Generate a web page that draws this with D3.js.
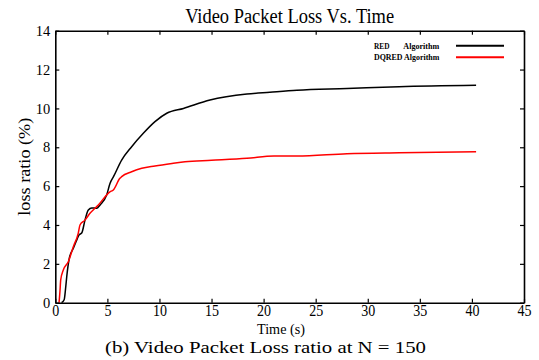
<!DOCTYPE html>
<html>
<head>
<meta charset="utf-8">
<script src="https://cdn.jsdelivr.net/npm/d3@7"></script>
<style>
  html, body { margin: 0; padding: 0; background: #fff; }
  svg { display: block; }
</style>
</head>
<body>
<svg id="chart" width="539" height="360"></svg>
<script>
// Video packet loss ratio (%) over time (s), N = 150
const redTime = [0.6, 0.85, 1.0, 1.1, 1.35, 1.73, 2.0, 2.27, 2.55, 2.85, 3.17, 3.5, 3.97, 4.3, 4.93, 5.25, 5.6, 6.37, 7.33, 8.45, 9.57, 10.7, 12.3, 14.85, 18.4, 20.6, 23.2, 28, 33, 40.4];
const redLoss = [0, 0.15, 0.8, 1.35, 2.3, 2.8, 3.15, 3.48, 3.6, 4.25, 4.77, 4.88, 4.86, 5.03, 5.54, 6.14, 6.5, 7.34, 8.03, 8.72, 9.32, 9.75, 10.0, 10.43, 10.74, 10.83, 10.93, 11.02, 11.12, 11.19];

const dqredTime = [0.36, 0.45, 0.52, 0.77, 1.25, 1.73, 2.2, 2.37, 2.85, 3.33, 4.13, 5.25, 5.57, 6.2, 6.37, 7.33, 8.3, 9.57, 11.2, 12.45, 15, 18.4, 21, 23.2, 28, 33, 40.4];
const dqredLoss = [0, 0.6, 1.17, 1.68, 2.11, 2.88, 3.57, 4.0, 4.25, 4.6, 5.03, 5.71, 5.8, 6.4, 6.49, 6.74, 6.92, 7.04, 7.17, 7.26, 7.33, 7.43, 7.55, 7.55, 7.67, 7.72, 7.77];

const seriesNames = ["RED", "DQRED"];
const seriesColors = ["#000000", "#ff0000"];

const xTicks = [0, 5, 10, 15, 20, 25, 30, 35, 40, 45];
const yTicks = [0, 2, 4, 6, 8, 10, 12, 14];

const titleText = "Video Packet Loss Vs. Time";
const xLabel = "Time (s)";
const yLabel = "loss ratio (%)";
const captionText = "(b) Video Packet Loss ratio at N = 150";

const serif = "'Liberation Serif', 'Times New Roman', Times, serif";

const svg = d3.select("#chart");
const plotLeft = 55.3, plotRight = 524, plotTop = 30.7, plotBottom = 302.7;

const x = d3.scaleLinear().domain([0, 45]).range([plotLeft, plotRight]);
const y = d3.scaleLinear().domain([0, 14]).range([plotBottom, plotTop]);

svg.append("rect").attr("width", 539).attr("height", 360).attr("fill", "#fff");

// series lines
const series = [
  { t: redTime, v: redLoss },
  { t: dqredTime, v: dqredLoss }
];
const line = d3.line().x(d => x(d[0])).y(d => y(d[1])).curve(d3.curveMonotoneX);
series.forEach((s, i) => {
  svg.append("path")
    .datum(s.t.map((t, k) => [t, s.v[k]]))
    .attr("fill", "none")
    .attr("stroke", seriesColors[i])
    .attr("stroke-width", 1.5)
    .attr("stroke-linejoin", "round")
    .attr("d", line);
});

// axes with inward ticks on all four sides
const bottomAxis = svg.append("g").attr("transform", `translate(0,${plotBottom})`)
  .call(d3.axisBottom(x).tickValues(xTicks).tickSizeInner(-4).tickSizeOuter(0).tickPadding(2));
bottomAxis.selectAll("text")
  .style("font-family", serif)
  .attr("font-size", 16.5)
  .attr("textLength", d => String(d).length * 7)
  .attr("lengthAdjust", "spacingAndGlyphs");

const leftAxis = svg.append("g").attr("transform", `translate(${plotLeft},0)`)
  .call(d3.axisLeft(y).tickValues(yTicks).tickSizeInner(-4).tickSizeOuter(0).tickPadding(5));
leftAxis.selectAll("text").style("font-family", serif).attr("font-size", 14.5);

svg.append("g").attr("transform", `translate(0,${plotTop})`)
  .call(d3.axisTop(x).tickValues(xTicks).tickSizeInner(-4).tickSizeOuter(0).tickFormat(""));
svg.append("g").attr("transform", `translate(${plotRight},0)`)
  .call(d3.axisRight(y).tickValues(yTicks).tickSizeInner(-4).tickSizeOuter(0).tickFormat(""));

svg.selectAll(".domain").attr("stroke", "#000").attr("stroke-width", 1.6);
svg.selectAll(".tick line").attr("stroke", "#000").attr("stroke-width", 1.2);

// title and labels
svg.append("text").attr("x", (plotLeft + plotRight) / 2).attr("y", 23.3)
  .style("font-family", serif)
  .attr("text-anchor", "middle").attr("font-size", 20.5)
  .attr("textLength", 209).attr("lengthAdjust", "spacingAndGlyphs")
  .text(titleText);

svg.append("text").attr("x", 281).attr("y", 334)
  .style("font-family", serif)
  .attr("text-anchor", "middle").attr("font-size", 15)
  .attr("textLength", 48).attr("lengthAdjust", "spacingAndGlyphs")
  .text(xLabel);

svg.append("text")
  .attr("transform", `translate(30,${(plotTop + plotBottom) / 2}) rotate(-90)`)
  .style("font-family", serif)
  .attr("text-anchor", "middle").attr("font-size", 17)
  .attr("textLength", 98).attr("lengthAdjust", "spacingAndGlyphs")
  .text(yLabel);

svg.append("text").attr("x", 265.5).attr("y", 353.3)
  .style("font-family", serif)
  .attr("text-anchor", "middle").attr("font-size", 17.5)
  .attr("textLength", 321).attr("lengthAdjust", "spacingAndGlyphs")
  .text(captionText);

// legend
const legendRows = [
  { name: seriesNames[0], y: 45.7 },
  { name: seriesNames[1], y: 57.3 }
];
legendRows.forEach((r, i) => {
  const g = svg.append("g").style("font-family", serif);
  if (i === 0) {
    g.append("text").attr("x", 374).attr("y", r.y + 3)
      .attr("font-size", 8.8).attr("font-weight", "bold")
      .attr("textLength", 15.5).attr("lengthAdjust", "spacingAndGlyphs")
      .text(r.name);
    g.append("text").attr("x", 403.3).attr("y", r.y + 3)
      .attr("font-size", 8.8).attr("font-weight", "bold")
      .attr("textLength", 36).attr("lengthAdjust", "spacingAndGlyphs")
      .text("Algorithm");
  } else {
    g.append("text").attr("x", 374).attr("y", r.y + 3)
      .attr("font-size", 8.8).attr("font-weight", "bold")
      .attr("textLength", 65.3).attr("lengthAdjust", "spacingAndGlyphs")
      .text(r.name + " Algorithm");
  }
  g.append("line").attr("x1", 456).attr("x2", 504).attr("y1", r.y).attr("y2", r.y)
    .attr("stroke", seriesColors[i]).attr("stroke-width", 2);
});
</script>
</body>
</html>
